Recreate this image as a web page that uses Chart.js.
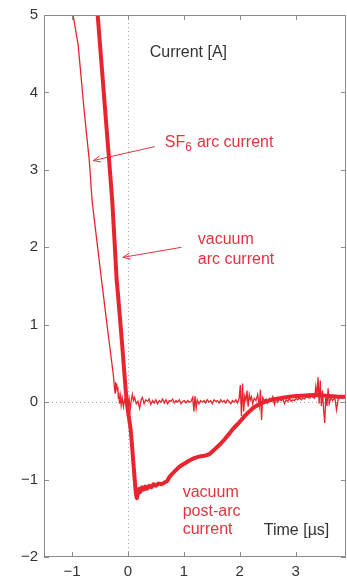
<!DOCTYPE html>
<html>
<head>
<meta charset="utf-8">
<script src="https://cdn.jsdelivr.net/npm/chart.js@4/dist/chart.umd.min.js"></script>
<style>
  html, body { margin: 0; padding: 0; background: #fff; }
  #wrap { width: 347px; height: 578px; }
</style>
</head>
<body>
<div id="wrap"><canvas id="currentChart"></canvas></div>
<script>
// SF6 arc current (thin trace), time in µs, current in A
const sf6Time = [
  -1.00, -0.98, -0.90, -0.89, -0.78, -0.69, -0.64, -0.50, -0.36, -0.26, -0.24, -0.23,
  -0.22, -0.21, -0.20, -0.19, -0.18, -0.17, -0.16, -0.15, -0.13, -0.12, -0.10, -0.08,
  -0.06, -0.04, -0.02, 0.00, 0.02, 0.04, 0.06, 0.08, 0.10, 0.12, 0.15, 0.18, 0.21,
  0.24, 0.26, 0.29, 0.32, 0.35, 0.38, 0.41, 0.44, 0.47, 0.50, 0.53, 0.56, 0.59, 0.62,
  0.65, 0.68, 0.71, 0.74, 0.77, 0.80, 0.83, 0.86, 0.89, 0.92, 0.95, 0.98, 1.01, 1.04,
  1.07, 1.10, 1.13, 1.16, 1.18, 1.20, 1.22, 1.24, 1.27, 1.30, 1.33, 1.36, 1.39, 1.42,
  1.45, 1.48, 1.51, 1.54, 1.57, 1.60, 1.63, 1.66, 1.69, 1.72, 1.75, 1.78, 1.81, 1.84,
  1.87, 1.90, 1.93, 1.96, 1.99, 2.01, 2.03, 2.05, 2.07, 2.09, 2.11, 2.13, 2.15, 2.17,
  2.19, 2.21, 2.23, 2.26, 2.29, 2.32, 2.35, 2.37, 2.39, 2.41, 2.44, 2.47, 2.50, 2.53,
  2.56, 2.59, 2.62, 2.65, 2.68, 2.71, 2.74, 2.77, 2.80, 2.83, 2.86, 2.89, 2.92, 2.95,
  2.98, 3.01, 3.04, 3.07, 3.10, 3.13, 3.16, 3.19, 3.22, 3.25, 3.28, 3.31, 3.34, 3.36,
  3.38, 3.40, 3.42, 3.44, 3.46, 3.48, 3.50, 3.52, 3.54, 3.56, 3.58, 3.60, 3.63, 3.66,
  3.70, 3.73, 3.76, 3.79, 3.82, 3.86, 3.90
];
const sf6Current = [
  5.30, 5.00, 4.66, 4.62, 3.75, 3.12, 2.60, 1.75, 0.92, 0.35, 0.18, 0.12,
  0.26, 0.18, 0.24, 0.15, 0.20, 0.05, 0.12, -0.02, 0.08, -0.04, 0.05, -0.06,
  0.03, 0.01, 0.07, -0.02, 0.05, -0.10, 0.02, 0.10, 0.02, 0.06, -0.02, 0.01, -0.08,
  0.04, 0.06, -0.02, 0.03, 0.01, 0.04, -0.03, 0.02, -0.01, 0.03, -0.02, 0.02, 0.00, 0.04,
  -0.01, 0.03, -0.02, 0.02, 0.01, 0.04, -0.01, 0.02, 0.00, 0.03, -0.02, 0.01, 0.02, -0.01,
  0.02, 0.00, 0.01, 0.06, -0.12, 0.08, -0.08, 0.03, -0.02, 0.02, 0.00, 0.02, -0.01, 0.03,
  0.00, 0.02, -0.02, 0.03, 0.01, 0.02, -0.01, 0.03, 0.00, 0.02, -0.01, 0.03, 0.01, -0.02,
  0.02, 0.00, 0.03, -0.01, 0.05, 0.22, -0.18, 0.24, -0.12, 0.08, 0.02, 0.15, -0.06, 0.10,
  0.03, 0.07, -0.02, 0.05, 0.02, 0.10, -0.05, 0.16, -0.23, 0.06, 0.02, 0.04, -0.01, 0.05,
  0.02, 0.07, -0.03, 0.04, 0.00, 0.05, 0.02, 0.04, -0.02, 0.03, 0.01, 0.05, 0.01, 0.03,
  0.02, 0.05, 0.03, 0.06, 0.03, 0.05, 0.04, 0.07, 0.06, 0.05, 0.08, 0.06, 0.05, 0.20,
  0.08, 0.32, -0.02, 0.28, -0.05, 0.15, -0.10, -0.27, 0.10, -0.05, 0.18, -0.02, 0.06, 0.02,
  0.06, -0.10, 0.04, 0.06, 0.05, 0.06, 0.05
];

// vacuum arc and post-arc current (thick trace)
const vacTime = [
  -0.56, -0.54, -0.41, -0.28, -0.20, -0.19, -0.10, -0.02, 0.05, 0.10, 0.14, 0.16,
  0.18, 0.20, 0.22, 0.25, 0.28, 0.31, 0.34, 0.38, 0.42, 0.46, 0.50, 0.55, 0.60, 0.65,
  0.70, 0.75, 0.84, 0.93, 1.02, 1.11, 1.20, 1.29, 1.38, 1.46, 1.55, 1.64, 1.73, 1.82,
  1.90, 1.98, 2.10, 2.20, 2.27, 2.40, 2.57, 2.72, 2.88, 3.05, 3.23, 3.40, 3.60, 3.75, 3.90
];
const vacCurrent = [
  5.20, 5.00, 3.80, 2.60, 1.57, 1.50, 0.72, 0.00, -0.36, -0.80, -1.15, -1.24,
  -1.18, -1.12, -1.16, -1.10, -1.13, -1.09, -1.12, -1.08, -1.10, -1.06, -1.08, -1.05, -1.06, -1.04,
  -1.02, -0.96, -0.89, -0.83, -0.79, -0.75, -0.72, -0.70, -0.69, -0.67, -0.61, -0.55, -0.48, -0.40,
  -0.33, -0.27, -0.17, -0.10, -0.06, -0.01, 0.03, 0.05, 0.07, 0.08, 0.09, 0.09, 0.08, 0.07, 0.07
];

const xTicks = [-1, 0, 1, 2, 3];
const yTicks = [-2, -1, 0, 1, 2, 3, 4, 5];

const RED = '#e8252e';
const TEXT_RED = '#e2343f';
const AXIS = '#8c8c8c';
const FONT = '"Liberation Sans", Arial, sans-serif';

const minus = v => (v < 0 ? '\u2212' + Math.abs(v) : String(v));

// frame, inward ticks on all four sides, dotted zero lines
const framePlugin = {
  id: 'frame',
  beforeDatasetsDraw(chart) {
    const {ctx, chartArea: a, scales: {x, y}} = chart;
    ctx.save();
    ctx.strokeStyle = '#9aaabb';
    ctx.lineWidth = 1;
    ctx.setLineDash([1, 3]);
    const x0 = Math.round(x.getPixelForValue(0)) + 0.5;
    const y0 = Math.round(y.getPixelForValue(0)) + 0.5;
    ctx.beginPath();
    ctx.moveTo(x0, a.top); ctx.lineTo(x0, a.bottom);
    ctx.moveTo(a.left, y0); ctx.lineTo(a.right, y0);
    ctx.stroke();
    ctx.restore();
  },
  afterDatasetsDraw(chart) {
    const {ctx, chartArea: a, scales: {x, y}} = chart;
    ctx.save();
    ctx.strokeStyle = AXIS;
    ctx.lineWidth = 1;
    ctx.strokeRect(a.left + 0.5, a.top + 0.5, a.right - a.left - 1, a.bottom - a.top - 1);
    ctx.beginPath();
    xTicks.forEach(v => {
      const px = Math.round(x.getPixelForValue(v)) + 0.5;
      ctx.moveTo(px, a.bottom); ctx.lineTo(px, a.bottom - 5);
      ctx.moveTo(px, a.top); ctx.lineTo(px, a.top + 5);
    });
    yTicks.forEach(v => {
      const py = Math.round(y.getPixelForValue(v)) + 0.5;
      ctx.moveTo(a.left, py); ctx.lineTo(a.left + 5, py);
      ctx.moveTo(a.right, py); ctx.lineTo(a.right - 5, py);
    });
    ctx.stroke();
    ctx.restore();
  }
};

// text labels and arrows, placed in data units
const labelPlugin = {
  id: 'labels',
  afterDraw(chart) {
    const {ctx, scales: {x, y}} = chart;
    const px = v => x.getPixelForValue(v);
    const py = v => y.getPixelForValue(v);
    ctx.save();
    ctx.textBaseline = 'middle';
    ctx.textAlign = 'left';
    ctx.font = '16px ' + FONT;

    ctx.fillStyle = '#333';
    ctx.fillText('Current [A]', px(0.39), py(4.51));
    ctx.fillText('Time [\u00b5s]', px(2.43), py(-1.66));

    ctx.fillStyle = TEXT_RED;
    let tx = px(0.66);
    const ty = py(3.35);
    ctx.fillText('SF', tx, ty);
    tx += ctx.measureText('SF').width;
    ctx.font = '12px ' + FONT;
    ctx.fillText('6', tx, ty + 5);
    tx += ctx.measureText('6').width + 5;
    ctx.font = '16px ' + FONT;
    ctx.fillText('arc current', tx, ty);

    ctx.fillText('vacuum', px(1.25), py(2.10));
    ctx.fillText('arc current', px(1.25), py(1.84));
    ctx.fillText('vacuum', px(0.98), py(-1.17));
    ctx.fillText('post-arc', px(0.98), py(-1.42));
    ctx.fillText('current', px(0.98), py(-1.64));

    const arrow = (x1, y1, x2, y2) => {
      const ax = px(x1), ay = py(y1), bx = px(x2), by = py(y2);
      const ang = Math.atan2(by - ay, bx - ax);
      ctx.strokeStyle = TEXT_RED;
      ctx.lineWidth = 1;
      ctx.beginPath();
      ctx.moveTo(ax, ay); ctx.lineTo(bx, by);
      ctx.moveTo(bx + 8 * Math.cos(ang + Math.PI - 0.4), by + 8 * Math.sin(ang + Math.PI - 0.4));
      ctx.lineTo(bx, by);
      ctx.lineTo(bx + 8 * Math.cos(ang + Math.PI + 0.4), by + 8 * Math.sin(ang + Math.PI + 0.4));
      ctx.stroke();
    };
    arrow(0.48, 3.30, -0.62, 3.12);
    arrow(0.96, 2.00, -0.09, 1.87);
    ctx.restore();
  }
};

const toPoints = (xs, ys) => xs.map((t, i) => ({x: t, y: ys[i]}));

new Chart(document.getElementById('currentChart'), {
  type: 'line',
  data: {
    datasets: [
      {
        label: 'SF6 arc current',
        data: toPoints(sf6Time, sf6Current),
        borderColor: RED,
        borderWidth: 1.3,
        pointRadius: 0,
        tension: 0
      },
      {
        label: 'vacuum arc current',
        data: toPoints(vacTime, vacCurrent),
        borderColor: RED,
        borderWidth: 4,
        pointRadius: 0,
        tension: 0.2,
        borderJoinStyle: 'round'
      }
    ]
  },
  options: {
    responsive: true,
    maintainAspectRatio: false,
    animation: false,
    layout: { padding: { top: 14, right: 1, left: 0, bottom: 0 } },
    plugins: {
      legend: { display: false },
      tooltip: { enabled: false }
    },
    scales: {
      x: {
        type: 'linear',
        min: -1.5,
        max: 3.9,
        grid: { display: false, drawTicks: false },
        border: { display: false },
        afterFit: s => { s.height = 21; },
        ticks: {
          stepSize: 1,
          includeBounds: false,
          padding: 6,
          color: '#333',
          font: { family: FONT, size: 15 },
          callback: minus
        }
      },
      y: {
        min: -2,
        max: 5,
        grid: { display: false, drawTicks: false },
        border: { display: false },
        afterFit: s => { s.width = 44; },
        ticks: {
          stepSize: 1,
          padding: 6,
          color: '#333',
          font: { family: FONT, size: 15 },
          callback: minus
        }
      }
    }
  },
  plugins: [framePlugin, labelPlugin]
});
</script>
</body>
</html>
